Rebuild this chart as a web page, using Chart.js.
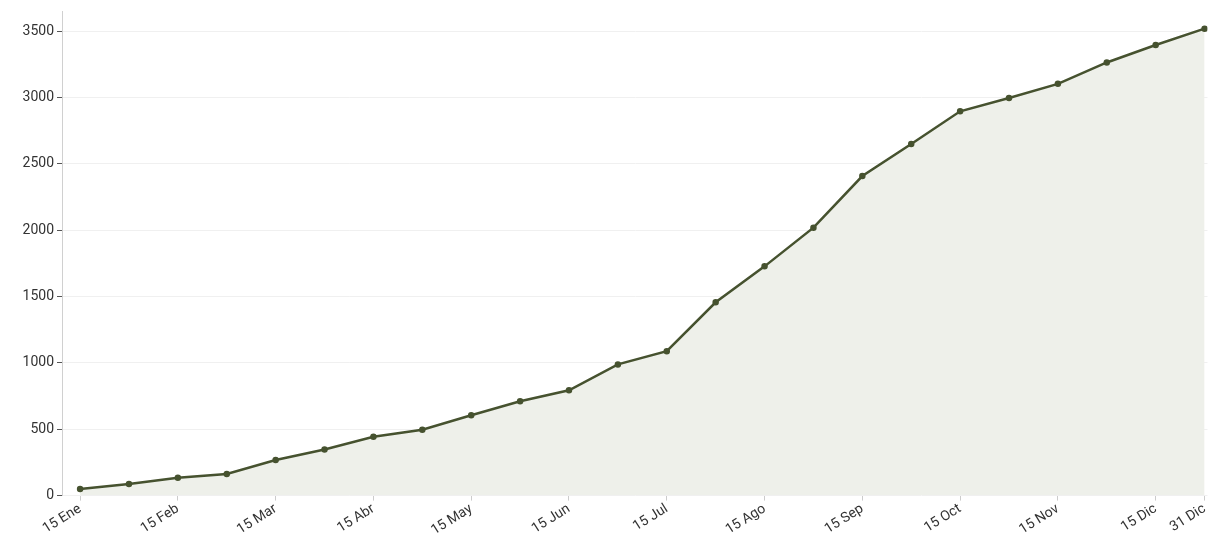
<!DOCTYPE html>
<html>
<head>
<meta charset="utf-8">
<script src="https://cdn.jsdelivr.net/npm/chart.js@4"></script>
<style>
  html, body { margin: 0; padding: 0; background: #fff; overflow: hidden; }
  /* a little wider than the window: the x scale keeps 6px of right padding for the last label */
  #wrap { width: 1214px; height: 539px; position: relative; }
  canvas { display: block; }
</style>
</head>
<body>
<div id="wrap"><canvas id="totalChart"></canvas></div>
<script>
// semi-monthly checkpoints
const labels = ['15 Ene', '31 Ene', '15 Feb', '28 Feb', '15 Mar', '31 Mar', '15 Abr', '30 Abr',
  '15 May', '31 May', '15 Jun', '30 Jun', '15 Jul', '31 Jul', '15 Ago', '31 Ago',
  '15 Sep', '30 Sep', '15 Oct', '31 Oct', '15 Nov', '30 Nov', '15 Dic', '31 Dic'];
const totals = [50, 88, 135, 163, 268, 348, 443, 496, 606, 711, 794, 989,
  1089, 1457, 1728, 2020, 2409, 2651, 2897, 2997, 3104, 3265, 3397, 3520];
const yTicks = [0, 500, 1000, 1500, 2000, 2500, 3000, 3500];

const lineColor = '#46522f';
const shown = i => i % 2 === 0 || i === labels.length - 1;

const ctx = document.getElementById('totalChart');
new Chart(ctx, {
  type: 'line',
  data: {
    datasets: [{
      data: totals.map((v, i) => ({ x: i, y: v })),
      borderColor: lineColor,
      borderWidth: 2.5,
      backgroundColor: '#eef0ea',
      fill: 'origin',
      pointRadius: 2,
      pointBackgroundColor: lineColor,
      pointBorderColor: lineColor,
      tension: 0
    }]
  },
  options: {
    responsive: true,
    maintainAspectRatio: false,
    animation: false,
    layout: { padding: { left: 0, right: 0, top: 2, bottom: 0 } },
    plugins: { legend: { display: false }, tooltip: { enabled: false } },
    scales: {
      x: {
        type: 'linear',
        min: -0.37,
        max: 23.06,
        afterBuildTicks: s => { s.ticks = labels.map((l, i) => ({ value: i })); },
        grid: {
          display: true,
          drawOnChartArea: false,
          tickLength: 5,
          color: c => shown(c.index) ? '#cccccc' : 'rgba(0,0,0,0)'
        },
        border: { display: false },
        ticks: {
          autoSkip: false,
          minRotation: 32,
          maxRotation: 32,
          padding: 0,
          color: '#333',
          font: { family: 'Roboto', size: 14 },
          callback: (v, i) => shown(i) ? labels[i] : ''
        }
      },
      y: {
        min: 0,
        max: 3650,
        afterBuildTicks: s => { s.ticks = yTicks.map(v => ({ value: v })); },
        afterFit: s => { s.width = 62; },
        grid: { color: '#f0f0f0', tickColor: '#555', tickLength: 5 },
        border: { display: true, color: '#d0d0d0' },
        ticks: {
          padding: 3,
          color: '#333',
          font: { family: 'Roboto', size: 14 },
          callback: v => String(v)
        }
      }
    }
  }
});
</script>
</body>
</html>
